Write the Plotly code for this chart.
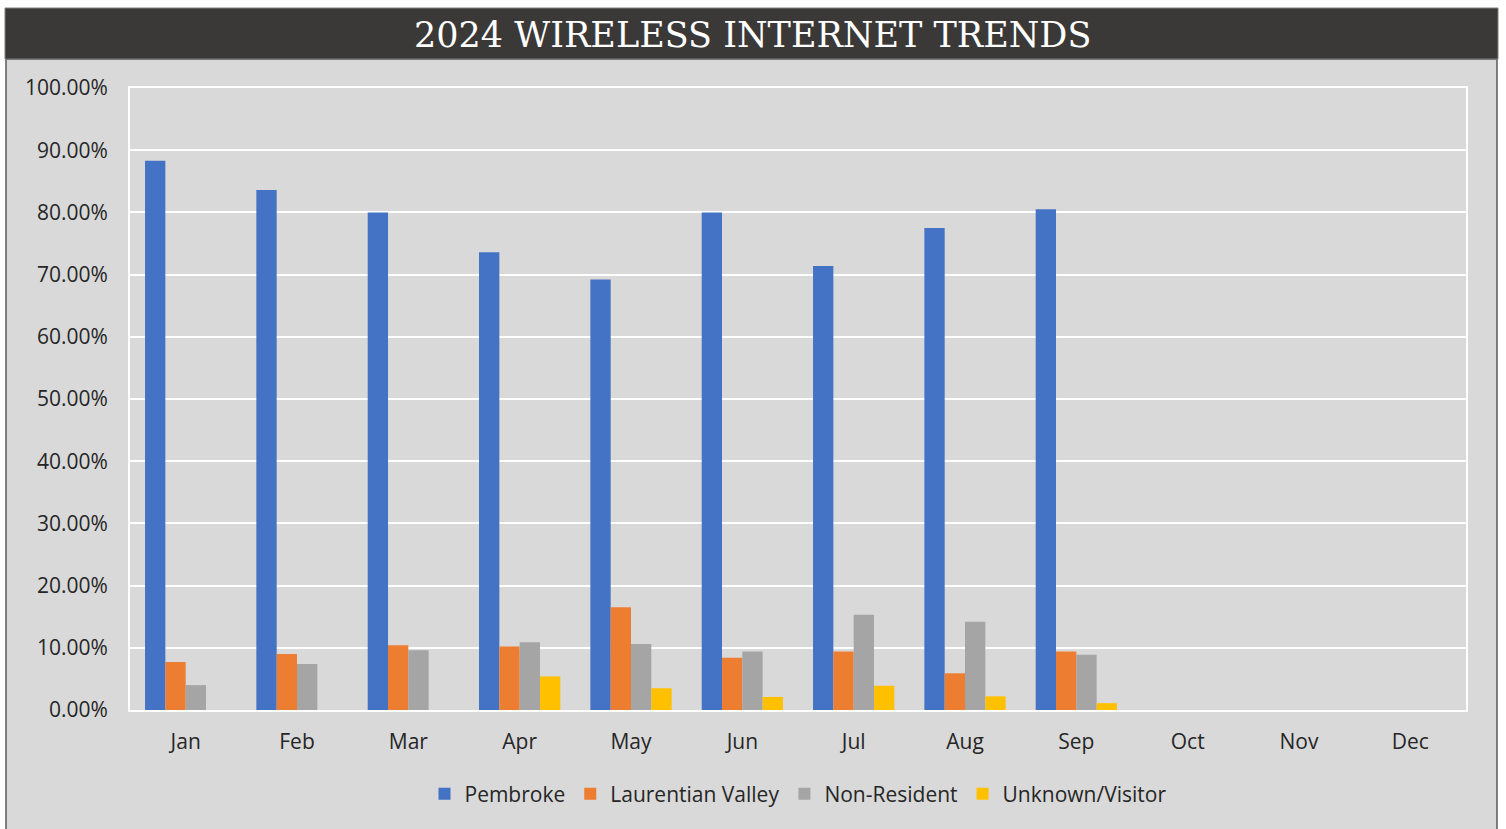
import plotly.graph_objects as go

months = ["Jan", "Feb", "Mar", "Apr", "May", "Jun", "Jul", "Aug", "Sep", "Oct", "Nov", "Dec"]
pembroke = [0.883, 0.836, 0.800, 0.736, 0.692, 0.800, 0.714, 0.775, 0.805, None, None, None]
laurentian = [0.077, 0.090, 0.104, 0.102, 0.165, 0.084, 0.094, 0.059, 0.094, None, None, None]
non_resident = [0.040, 0.074, 0.096, 0.109, 0.106, 0.094, 0.153, 0.142, 0.089, None, None, None]
unknown = [0.0, 0.0, 0.0, 0.054, 0.035, 0.021, 0.039, 0.022, 0.011, None, None, None]

series = [
    ("Pembroke", pembroke, "#4472c4"),
    ("Laurentian Valley", laurentian, "#ed7d31"),
    ("Non-Resident", non_resident, "#a5a5a5"),
    ("Unknown/Visitor", unknown, "#ffc000"),
]

W, H = 1506, 829
L, R, T, B = 130, 1466, 88, 710

def px_x(x):
    return (x - L) / (R - L)

def px_y(y):
    return (B - y) / (B - T)

fig = go.Figure()
for name, vals, col in series:
    fig.add_trace(go.Bar(x=months, y=vals, name=name, marker=dict(color=col, line=dict(width=0))))

font_fam = "Open Sans, Noto Sans, sans-serif"
fig.update_layout(
    width=W, height=H,
    margin=dict(l=L, r=W - R, t=T, b=H - B, pad=0),
    paper_bgcolor="white",
    plot_bgcolor="#d9d9d9",
    barmode="group",
    bargap=0.27,
    bargroupgap=0,
    font=dict(family=font_fam, size=21, color="#262626"),
    showlegend=True,
    legend=dict(orientation="h", x=0.5, xanchor="center", y=px_y(794), yanchor="middle",
                font=dict(size=21, color="#262626"), bgcolor="rgba(0,0,0,0)", itemwidth=30,
                traceorder="normal"),
    xaxis=dict(showgrid=False, showline=True, linecolor="white", linewidth=2, mirror=True,
               ticks="", ticklabelstandoff=12, tickfont=dict(size=21), zeroline=False,
               fixedrange=True),
    yaxis=dict(range=[0, 1.0], dtick=0.1, tickformat=".2%", showgrid=True, gridcolor="white",
               gridwidth=2, showline=True, linecolor="white", linewidth=2, mirror=True,
               ticks="", ticklabelstandoff=16, tickfont=dict(size=21), zeroline=False),
    shapes=[
        dict(type="rect", xref="paper", yref="paper", x0=px_x(6), x1=px_x(1497), y0=px_y(835), y1=px_y(59),
             fillcolor="#d9d9d9", line=dict(color="#595959", width=1.5), layer="below"),
        dict(type="rect", xref="paper", yref="paper", x0=px_x(5), x1=px_x(1498), y0=px_y(59), y1=px_y(8),
             fillcolor="#3b3838", line=dict(color="#7f7f7f", width=1), layer="below"),
    ],
    annotations=[
        dict(text="2024 WIRELESS INTERNET TRENDS", xref="paper", yref="paper",
             x=px_x(752), y=px_y(35), xanchor="center", yanchor="middle", showarrow=False,
             font=dict(family="DejaVu Serif, Liberation Serif, serif", size=35, color="white")),
    ],
)

fig.write_html("out.html", config={"displayModeBar": False},
               post_script="document.body.style.margin='0px';document.body.style.overflow='hidden';")
